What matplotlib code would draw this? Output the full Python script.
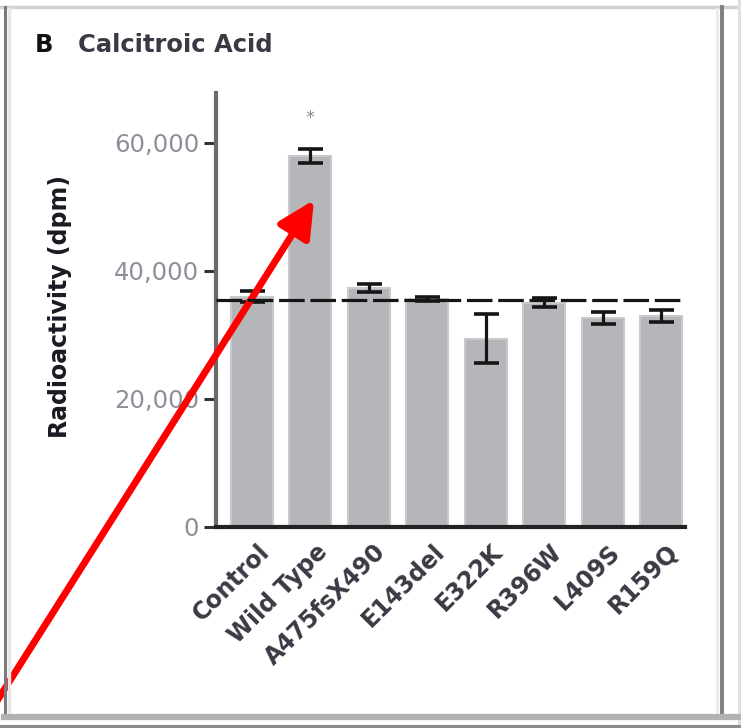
import numpy as np
import matplotlib
matplotlib.use('Agg')
from matplotlib import pyplot as plt
from matplotlib.lines import Line2D
from matplotlib.ticker import FuncFormatter
import matplotlib.transforms as mtransforms

# calcitroic acid radioactivity per construct
variants = ['Control', 'Wild Type', 'A475fsX490', 'E143del', 'E322K', 'R396W', 'L409S', 'R159Q']
dpm = [36000, 57900, 37300, 35600, 29400, 35000, 32650, 33000]
dpm_err = [900, 1100, 600, 300, 3800, 700, 900, 900]
control_level = 35500
star_level = 63900
yticks = [0, 20000, 40000, 60000]

W, H = 741, 728
fig = plt.figure(figsize=(W / 100, H / 100), dpi=100)
ax = fig.add_axes([216 / W, 1 - 527 / H, (685 - 216) / W, (527 - 93) / H])

x = np.arange(len(variants))
ax.bar(x, dpm, width=0.72, color='#b4b6ba', edgecolor='#c8cacd', linewidth=1.5, zorder=1)
ax.errorbar(x, dpm, yerr=dpm_err, fmt='none', ecolor='#151515', elinewidth=2.3,
            capsize=9, capthick=2.6, zorder=3)
ax.axhline(control_level, color='#151515', lw=2.3, dashes=(8, 1.8), zorder=4)
ax.text(1, star_level, '*', ha='center', va='center', fontsize=13, color='#8a8a9a')

ax.set_xlim(-0.616, 7.41)
ax.set_ylim(0, 67800)
ax.set_yticks(yticks)
ax.yaxis.set_major_formatter(FuncFormatter(lambda v, p: f'{int(v):,}'))
ax.tick_params(axis='y', length=8.6, width=2.2, color='#333333', pad=3.6,
               labelsize=17.5, labelcolor='#8f8f99')
ax.tick_params(axis='x', length=0, pad=9)
ax.set_xticks(x)
ax.set_xticklabels(variants, rotation=45, ha='right', va='top', rotation_mode='anchor',
                   fontsize=17, color='#3a3a44', fontweight='semibold')
shift = mtransforms.ScaledTranslation(5 / 100, 0, fig.dpi_scale_trans)
for lab in ax.get_xticklabels():
    lab.set_transform(lab.get_transform() + shift)

for s in ['top', 'right']:
    ax.spines[s].set_visible(False)
ax.spines['left'].set_color('#6a6a6a')
ax.spines['left'].set_linewidth(3.0)
ax.spines['bottom'].set_color('#222222')
ax.spines['bottom'].set_linewidth(3.0)

ax.set_ylabel('Radioactivity (dpm)', fontsize=17, fontweight='bold', color='#1a1a22')
ax.yaxis.set_label_coords(-0.307, 0.507)

fig.text(35 / W, 1 - 52 / H, 'B', fontsize=17.5, fontweight='bold', color='#111111')
fig.text(78 / W, 1 - 52 / H, 'Calcitroic Acid', fontsize=17.5, fontweight='bold',
         color='#3a3a44')

# panel frame
def fline(x0, y0, x1, y1, c, lw):
    fig.add_artist(Line2D([x0 / W, x1 / W], [1 - y0 / H, 1 - y1 / H],
                          transform=fig.transFigure, color=c, lw=lw))

fline(0, 7, W, 7, '#d2d2d2', 2.5)
fline(5, 7, 5, 718, '#7a7a7a', 2.2)
fline(9, 9, 9, 714, '#e8e8e8', 2.5)
fline(722, 7, 722, 718, '#7f7f7f', 2.8)
fline(717, 9, 717, 714, '#ececec', 2.2)
fline(739, 0, 739, H, '#e0e0e0', 2.2)
fline(4, 717, W, 717, '#b2b2b2', 4.5)
fline(0, 727, W, 727, '#8a8a8a', 3.0)

# red pointer onto the wild-type bar
ax.annotate('', xy=(314, H - 200), xycoords='figure pixels',
            xytext=(-15, H - 720), textcoords='figure pixels',
            arrowprops=dict(arrowstyle='-|>,head_length=1.1,head_width=0.55',
                            mutation_scale=20, color='#ff0000', lw=5,
                            shrinkA=0, shrinkB=0),
            annotation_clip=False)

fig.savefig('out.png', dpi=100)
